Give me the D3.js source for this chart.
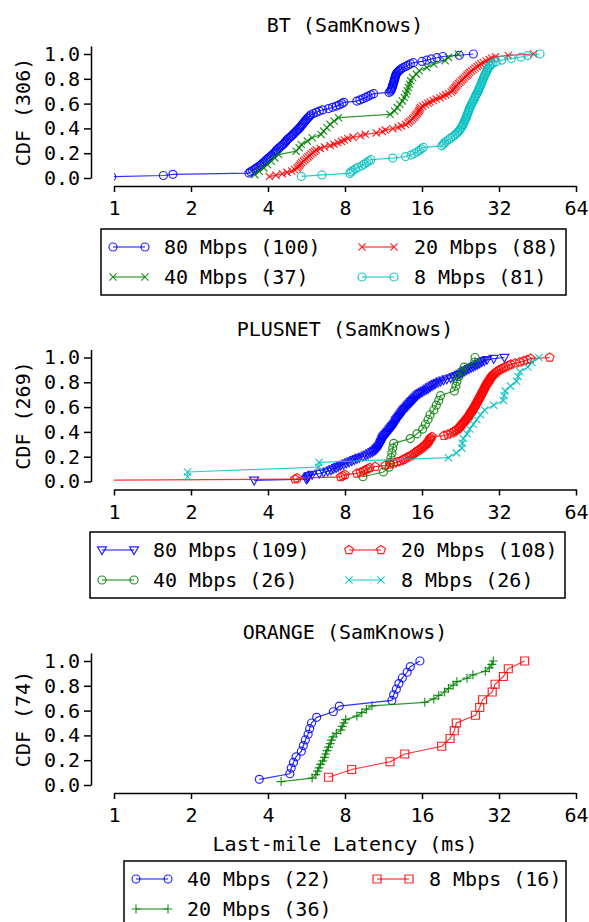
<!DOCTYPE html>
<html><head><meta charset="utf-8">
<script src="https://cdn.jsdelivr.net/npm/d3@7"></script>
<style>
body{margin:0;background:#fff}
svg{display:block}
text{font-family:"DejaVu Sans Mono",monospace}
</style>
</head><body>
<svg id="c" width="589" height="922"></svg>
<script>
// ---------- data ----------
const xTicks=[1,2,4,8,16,32,64];
const yTicks=[0,0.2,0.4,0.6,0.8,1.0];
const titles=["BT (SamKnows)","PLUSNET (SamKnows)","ORANGE (SamKnows)"];
const yLabels=["CDF (306)","CDF (269)","CDF (74)"];
const xLabel="Last-mile Latency (ms)";
const btNames=["80 Mbps (100)","40 Mbps (37)","20 Mbps (88)","8 Mbps (81)"];
const pnNames=["80 Mbps (109)","40 Mbps (26)","20 Mbps (108)","8 Mbps (26)"];
const orNames=["40 Mbps (22)","20 Mbps (36)","8 Mbps (16)"];

// sorted last-mile latencies (ms) per series
const bt80=[0.98,1.56,1.70,3.37,3.42,3.48,3.55,3.60,3.66,3.72,
3.77,3.82,3.87,3.92,3.96,4.01,4.07,4.12,4.18,4.22,
4.27,4.31,4.34,4.40,4.46,4.52,4.58,4.63,4.68,4.72,
4.76,4.82,4.89,4.95,5.01,5.06,5.12,5.17,5.23,5.29,
5.34,5.39,5.44,5.49,5.54,5.59,5.64,5.70,5.76,5.82,
5.88,6.02,6.18,6.35,6.55,6.90,7.15,7.40,7.60,7.78,
7.92,8.90,9.15,9.40,9.65,9.85,10.1,10.35,11.9,12.05,
12.12,12.18,12.22,12.27,12.31,12.35,12.40,12.44,12.48,12.52,
12.56,12.60,12.65,12.70,12.80,12.95,13.10,13.25,13.5,13.8,
14.1,14.4,14.8,16.0,16.7,17.4,18.3,19.3,22.4,25.4];
const bt40=[3.55,3.70,3.85,3.98,4.12,4.25,4.40,5.15,5.30,5.40,
5.70,5.95,6.45,6.60,6.80,7.00,7.25,7.55,12.0,12.5,
12.8,13.1,13.4,13.65,13.85,14.0,14.15,14.3,14.45,14.7,
15.2,15.6,16.7,17.8,19.7,20.3,22.2];
const bt20=[4.05,4.30,4.55,4.75,4.95,5.08,5.20,5.26,5.31,5.36,
5.42,5.50,5.58,5.66,5.74,5.82,5.90,5.99,6.08,6.17,
6.40,6.65,7.00,7.25,7.50,7.75,7.95,8.20,8.60,9.20,
9.60,10.6,11.2,11.5,12.3,12.9,13.3,13.8,14.1,14.3,
14.5,14.7,14.9,15.05,15.2,15.35,15.5,15.6,15.7,15.8,
16.1,16.5,16.9,17.2,17.7,18.2,18.8,19.3,19.8,20.3,
20.8,21.1,21.3,21.5,21.7,21.9,22.2,22.5,22.8,23.1,
23.4,23.7,24.0,24.3,24.6,25.0,25.4,25.8,26.3,26.7,
27.2,27.8,28.5,29.3,30.0,31.0,34.8,43.7];
const bt8=[5.40,6.50,8.35,8.45,8.60,8.80,9.0,9.3,9.5,9.7,
9.9,10.1,12.3,13.8,14.5,14.9,15.3,15.6,15.9,16.2,
19.1,19.4,19.6,19.9,20.3,20.7,21.1,21.5,21.8,22.1,
22.4,22.6,22.8,23.0,23.15,23.3,23.45,23.6,23.75,23.9,
24.0,24.1,24.25,24.35,24.5,24.6,24.8,24.95,25.1,25.3,
25.5,25.7,25.85,26.0,26.2,26.4,26.55,26.7,26.85,27.0,
27.2,27.35,27.5,27.65,27.8,27.95,28.1,28.3,28.5,28.7,
28.9,29.1,29.4,29.8,30.3,31.2,32.8,35.8,39.0,41.5,
46.3];
const pn80=[3.53,5.65,5.70,5.74,5.78,5.95,6.35,6.60,6.85,7.05,
7.20,7.38,7.52,7.70,7.90,8.10,8.30,8.50,8.70,8.90,
9.10,9.40,9.65,9.85,10.05,10.25,10.4,10.55,10.65,10.75,
10.85,10.95,11.0,11.05,11.1,11.15,11.2,11.25,11.3,11.4,
11.5,11.6,11.7,11.8,11.9,12.0,12.1,12.2,12.3,12.4,
12.5,12.6,12.65,12.7,12.8,12.9,13.0,13.1,13.2,13.3,
13.4,13.5,13.6,13.7,13.85,14.0,14.1,14.25,14.4,14.5,
14.65,14.8,14.95,15.1,15.25,15.4,15.6,15.85,16.1,16.4,
16.7,16.95,17.2,17.5,17.8,18.1,18.5,18.9,19.4,20.0,
20.7,21.3,21.8,22.3,22.7,23.1,23.5,23.9,24.4,24.9,
25.4,25.9,26.4,26.9,27.4,28.0,28.7,30.5,33.6];
const pn40=[9.4,11.3,11.9,12.0,12.1,12.2,12.3,12.4,14.4,15.3,
16.1,16.5,16.9,17.2,17.8,18.2,18.6,18.9,21.4,21.7,
21.9,22.3,22.9,23.4,25.7,25.8];
const pn20=[0.8,5.1,5.2,7.7,7.85,8.0,8.9,9.2,9.45,9.6,
9.8,10.0,10.5,11.5,12.0,12.4,12.8,13.2,13.5,13.75,
14.0,14.3,14.55,14.8,15.0,15.2,15.45,15.7,15.9,16.1,
16.3,16.5,16.7,16.85,17.0,17.1,17.2,17.3,17.5,19.5,
20.2,20.8,21.2,21.5,21.8,22.2,22.4,22.6,22.8,23.0,
23.2,23.4,23.6,23.8,24.0,24.2,24.4,24.55,24.7,24.85,
25.0,25.2,25.4,25.55,25.7,25.85,26.0,26.15,26.3,26.45,
26.6,26.75,26.9,27.05,27.2,27.35,27.5,27.65,27.8,27.95,
28.1,28.25,28.4,28.55,28.7,28.9,29.1,29.3,29.5,29.7,
29.9,30.1,30.4,30.7,31.1,31.5,32.0,32.6,33.3,34.0,
34.8,35.6,37.0,38.6,40.0,41.3,42.5,50.5];
const pn8=[1.94,1.94,6.3,6.33,20.3,21.8,22.9,23.0,23.2,24.0,
24.6,25.4,26.2,27.1,28.1,30.5,33.3,33.5,33.8,35.5,
37.5,38.0,38.6,41.5,43.0,45.8];
const or40=[3.7,4.87,4.93,5.03,5.15,5.40,5.50,5.60,5.74,5.82,
5.92,6.20,7.20,7.60,12.2,12.4,12.7,13.0,13.4,14.0,
14.4,15.7];
const or20=[4.5,5.95,6.15,6.25,6.33,6.42,6.55,6.65,6.72,6.80,
6.90,7.0,7.08,7.18,7.40,7.70,7.80,7.92,8.05,8.9,
9.3,9.7,10.2,16.4,17.8,18.6,19.6,20.3,21.2,21.9,
24.0,25.3,28.3,29.3,30.0,30.4];
const or8=[6.9,8.5,12.0,13.7,19.1,20.6,21.4,21.8,25.9,26.9,
27.6,30.1,30.9,33.3,34.8,40.3];

// ---------- styles ----------
const BLUE="#0000ff",GREEN="#008000",RED="#ff0000",CYAN="#00bfbf";
const panels=[
 {names:btNames,series:[[bt80,BLUE,"circle"],[bt40,GREEN,"x"],[bt20,RED,"x"],[bt8,CYAN,"circle"]],
  legend:{x:101,top:229,w:465,col2:261}},
 {names:pnNames,series:[[pn80,BLUE,"tri"],[pn40,GREEN,"circle"],[pn20,RED,"pent"],[pn8,CYAN,"x"]],
  legend:{x:90,top:532,w:475,col2:259}},
 {names:orNames,series:[[or40,BLUE,"circle"],[or20,GREEN,"plus"],[or8,RED,"square"]],
  legend:{x:124,top:861,w:442,col2:253}}
];
const PANEL_STEP=303.5;
const FONT='"DejaVu Sans Mono", monospace';

const svg=d3.select("#c");
svg.append("rect").attr("width",589).attr("height",922).attr("fill","#fff");
svg.append("defs").append("clipPath").attr("id","clip")
  .append("rect").attr("x",114).attr("y",0).attr("width",475).attr("height",922);

function pentPath(r){
  const pts=d3.range(5).map(i=>{const a=-Math.PI/2+i*2*Math.PI/5;return [r*Math.cos(a),r*Math.sin(a)];});
  return "M"+pts.map(p=>p[0].toFixed(2)+","+p[1].toFixed(2)).join("L")+"Z";
}
const symPaths={
  x:"M-3.6,-3.6L3.6,3.6M-3.6,3.6L3.6,-3.6",
  plus:"M-4.5,0H4.5M0,-4.5V4.5",
  tri:"M-4.5,-3.2L4.5,-3.2L0,4.6Z",
  pent:pentPath(4.6),
  square:"M-4,-4H4V4H-4Z"
};
function marker(g,type,x,y,color){
  if(type==="circle"){
    g.append("circle").attr("cx",x).attr("cy",y).attr("r",4)
      .attr("fill","none").attr("stroke",color).attr("stroke-width",1.2).attr("stroke-opacity",0.85);
  } else {
    g.append("path").attr("d",symPaths[type]).attr("transform",`translate(${x},${y})`)
      .attr("fill","none").attr("stroke",color).attr("stroke-width",1.2).attr("stroke-opacity",0.85);
  }
}

const x=d3.scaleLog().base(2).domain([1,64]).range([114,576]);

panels.forEach((p,k)=>{
  const off=k*PANEL_STEP;
  const y=d3.scaleLinear().domain([0,1.065]).range([178+off,178+off-124*1.065]);

  // title
  svg.append("text").attr("x",345).attr("y",32+off).attr("text-anchor","middle")
    .attr("font-size",20).attr("font-family",FONT).text(titles[k]);
  // y label
  svg.append("text").attr("transform",`translate(30,${(y(0)+y(1.065))/2}) rotate(-90)`)
    .attr("text-anchor","middle").attr("font-size",20).attr("font-family",FONT).text(yLabels[k]);

  // axes
  const xa=svg.append("g").attr("transform",`translate(0,${186+off})`)
    .call(d3.axisBottom(x).tickValues(xTicks).tickFormat(d3.format("d")).tickSize(6).tickSizeOuter(0).tickPadding(9));
  const ya=svg.append("g").attr("transform",`translate(91,0)`)
    .call(d3.axisLeft(y).tickValues(yTicks).tickFormat(d3.format(".1f")).tickSize(7).tickSizeOuter(0).tickPadding(4));
  [xa,ya].forEach(a=>{
    a.attr("font-size",20).attr("font-family",FONT);
    a.selectAll("text").attr("fill","#000");
    a.select(".domain").attr("stroke","#000").attr("stroke-width",1.5);
    a.selectAll(".tick line").attr("stroke","#000").attr("stroke-width",1.5);
  });

  // series
  const plot=svg.append("g").attr("clip-path","url(#clip)");
  p.series.forEach(([vals,color,type])=>{
    const n=vals.length;
    const pts=vals.map((v,i)=>[x(v),y((i+1)/n)]);
    plot.append("path").attr("d",d3.line()(pts)).attr("fill","none")
      .attr("stroke",color).attr("stroke-width",1.2).attr("stroke-opacity",0.8);
    const mg=plot.append("g");
    pts.forEach(q=>marker(mg,type,q[0],q[1],color));
  });

  // legend
  const L=p.legend;
  svg.append("rect").attr("x",L.x).attr("y",L.top).attr("width",L.w).attr("height",66)
    .attr("fill","#fff").attr("stroke","#000").attr("stroke-width",1.5);
  p.series.forEach(([vals,color,type],i)=>{
    const col=i<2?0:1,row=i%2;
    const ry=L.top+18+row*30;
    const x1=col===0?L.x+12:L.x+L.col2;
    const x2=x1+32;
    const tx=col===0?L.x+63:L.x+L.col2+52;
    const lg=svg.append("g");
    lg.append("line").attr("x1",x1).attr("x2",x2).attr("y1",ry).attr("y2",ry)
      .attr("stroke",color).attr("stroke-width",1.2).attr("stroke-opacity",0.8);
    marker(lg,type,x1,ry,color);
    marker(lg,type,x2,ry,color);
    lg.append("text").attr("x",tx).attr("y",ry+7).attr("font-size",20).attr("font-family",FONT)
      .text(p.names[i]);
  });

  if(k===2){
    svg.append("text").attr("x",345).attr("y",851).attr("text-anchor","middle")
      .attr("font-size",20).attr("font-family",FONT).text(xLabel);
  }
});
</script>
</body></html>
